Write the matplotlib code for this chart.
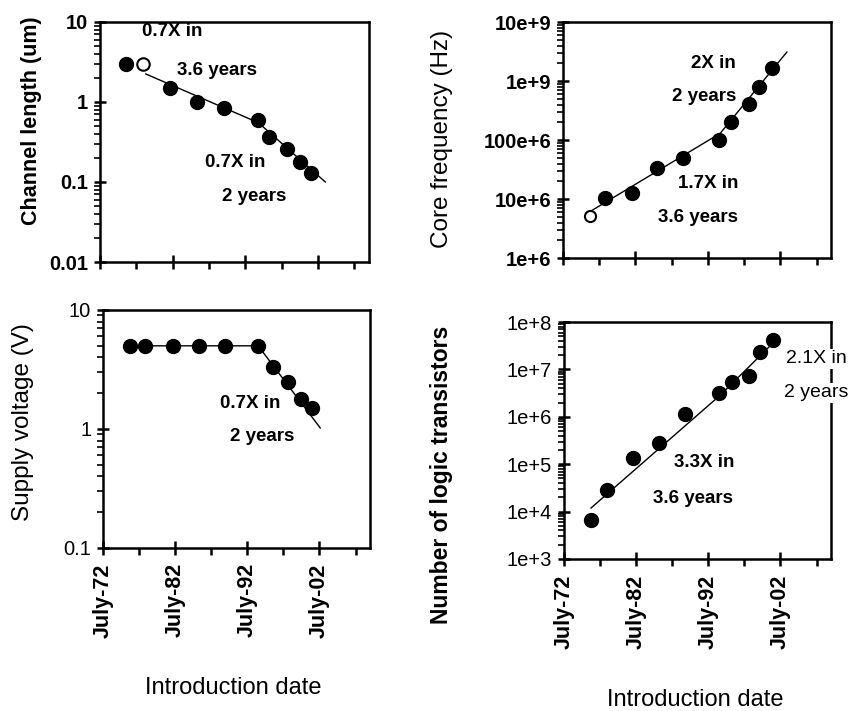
import matplotlib
matplotlib.use("Agg")
from matplotlib import pyplot as plt
from matplotlib.ticker import FixedLocator, FixedFormatter, LogLocator, NullFormatter

plt.rcParams['font.family'] = ['Liberation Sans', 'DejaVu Sans']

# x positions are fractional years (July = .5)
xticks_major = [1972.5, 1982.5, 1992.5, 2002.5]
xticks_minor = [1977.5, 1987.5, 1997.5, 2007.5]
xtick_labels = ["July-72", "July-82", "July-92", "July-02"]

# channel length (um)
cl_year = [1976.1, 1982.2, 1985.9, 1989.5, 1994.3, 1995.8, 1998.2, 2000.0, 2001.5]
cl_val = [3.0, 1.5, 1.0, 0.85, 0.6, 0.36, 0.26, 0.18, 0.13]
cl_open_year = [1978.4]
cl_open_val = [3.0]
cl_fit_year = [1978.8, 1994.3, 2003.5]
cl_fit_val = [2.24, 0.55, 0.10]

# core frequency (Hz)
cf_year = [1978.3, 1982.0, 1985.5, 1989.1, 1994.0, 1995.7, 1998.2, 1999.5, 2001.3]
cf_val = [1.05e7, 1.25e7, 3.3e7, 5.0e7, 1.0e8, 2.0e8, 4.1e8, 7.8e8, 1.65e9]
cf_open_year = [1976.2]
cf_open_val = [5.2e6]
cf_fit_year = [1976.1, 1994.2, 2003.4]
cf_fit_val = [6.0e6, 1.3e8, 3.1e9]

# supply voltage (V)
sv_year = [1976.25, 1978.3, 1982.2, 1985.8, 1989.4, 1994.0, 1996.0, 1998.2, 1999.9, 2001.5]
sv_val = [5, 5, 5, 5, 5, 5, 3.3, 2.5, 1.8, 1.5]
sv_fit_year = [1976.25, 1994.0, 2002.6]
sv_fit_val = [5, 5, 1.02]

# logic transistors
lt_year = [1976.25, 1978.5, 1982.1, 1985.7, 1989.3, 1994.0, 1995.8, 1998.2, 1999.6, 2001.5]
lt_val = [6.6e3, 2.9e4, 1.35e5, 2.8e5, 1.15e6, 3.2e6, 5.4e6, 7.2e6, 2.3e7, 4.2e7]
lt_fit_year = [1976.25, 1994.2, 2001.3]
lt_fit_val = [1.19e4, 2.9e6, 3.4e7]

cl_ticks = [0.01, 0.1, 1, 10]
cl_ticklabels = ["0.01", "0.1", "1", "10"]
cf_ticks = [1e6, 1e7, 1e8, 1e9, 1e10]
cf_ticklabels = ["1e+6", "10e+6", "100e+6", "1e+9", "10e+9"]
sv_ticks = [0.1, 1, 10]
sv_ticklabels = ["0.1", "1", "10"]
lt_ticks = [1e3, 1e4, 1e5, 1e6, 1e7, 1e8]
lt_ticklabels = ["1e+3", "1e+4", "1e+5", "1e+6", "1e+7", "1e+8"]

fig = plt.figure(figsize=(8.5, 7.11), dpi=100)
ax_cl = fig.add_axes([0.1176, 0.6315, 0.3165, 0.3376])
ax_cf = fig.add_axes([0.6624, 0.6371, 0.3153, 0.3319])
ax_sv = fig.add_axes([0.1212, 0.2293, 0.3141, 0.3347])
ax_lt = fig.add_axes([0.6635, 0.2138, 0.3141, 0.3333])


def style(ax, ticks, ticklabels, ylim, tick_bold, show_x):
    ax.set_yscale('log')
    ax.set_xlim(1972.5, 2009.5)
    ax.set_ylim(*ylim)
    for s in ax.spines.values():
        s.set_linewidth(1.8)
    ax.xaxis.set_major_locator(FixedLocator(xticks_major))
    ax.xaxis.set_minor_locator(FixedLocator(xticks_minor))
    ax.yaxis.set_major_locator(FixedLocator(ticks))
    ax.yaxis.set_major_formatter(FixedFormatter(ticklabels))
    ax.yaxis.set_minor_locator(LogLocator(base=10, subs=range(2, 10), numticks=20))
    ax.yaxis.set_minor_formatter(NullFormatter())
    ax.tick_params(axis='x', which='major', direction='inout', length=10, width=1.8, pad=6)
    ax.tick_params(axis='x', which='minor', direction='out', length=5, width=1.8)
    ax.tick_params(axis='y', which='major', direction='inout', length=9, width=1.8,
                   labelsize=14.5, pad=4)
    ax.tick_params(axis='y', which='minor', direction='out', length=4, width=1.2)
    for t in ax.get_yticklabels():
        t.set_fontweight('bold' if tick_bold else 'normal')
    if show_x:
        ax.set_xticklabels(xtick_labels, rotation=90, fontsize=15.5, fontweight='bold')
    else:
        ax.set_xticklabels([])


def mark(ax, x, y, **kw):
    ax.plot(x, y, 'o', color='black', markersize=10, zorder=4, clip_on=False, **kw)


style(ax_cl, cl_ticks, cl_ticklabels, (0.01, 10), True, False)
ax_cl.plot(cl_fit_year, cl_fit_val, color='black', lw=1.0)
mark(ax_cl, cl_year, cl_val)
ax_cl.plot(cl_open_year, cl_open_val, 'o', mfc='white', mec='black', mew=1.5, markersize=9)
ax_cl.set_ylabel("Channel length (um)", fontsize=15.5, fontweight='bold', va='center')
ax_cl.yaxis.set_label_coords(-0.253, 0.5875)
ann = dict(ha='center', va='center', fontsize=13.5, fontweight='bold')
ax_cl.text(1982.5, 7.5, "0.7X in", **ann)
ax_cl.text(1988.6, 2.5, "3.6 years", **ann)
ax_cl.text(1991.1, 0.173, "0.7X in", **ann)
ax_cl.text(1993.7, 0.065, "2 years", **ann)

style(ax_cf, cf_ticks, cf_ticklabels, (1e6, 1e10), True, False)
ax_cf.plot(cf_fit_year, cf_fit_val, color='black', lw=1.0)
mark(ax_cf, cf_year, cf_val)
ax_cf.plot(cf_open_year, cf_open_val, 'o', mfc='white', mec='black', mew=1.5, markersize=8)
ax_cf.set_ylabel("Core frequency (Hz)", fontsize=17.5, va='center')
ax_cf.yaxis.set_label_coords(-0.451, 0.506)
ax_cf.text(1993.3, 2.0e9, "2X in", **ann)
ax_cf.text(1992.0, 5.4e8, "2 years", **ann)
ax_cf.text(1992.5, 1.86e7, "1.7X in", **ann)
ax_cf.text(1991.1, 4.8e6, "3.6 years", **ann)

style(ax_sv, sv_ticks, sv_ticklabels, (0.1, 10), False, True)
ax_sv.plot(sv_fit_year, sv_fit_val, color='black', lw=1.0)
mark(ax_sv, sv_year, sv_val)
ax_sv.set_ylabel("Supply voltage (V)", fontsize=17.5, va='center')
ax_sv.yaxis.set_label_coords(-0.30, 0.529)
ax_sv.set_xlabel("Introduction date", fontsize=17, va='center')
ax_sv.xaxis.set_label_coords(0.489, -0.588)
ax_sv.text(1992.9, 1.65, "0.7X in", **ann)
ax_sv.text(1994.6, 0.857, "2 years", **ann)

style(ax_lt, lt_ticks, lt_ticklabels, (1e3, 1e8), False, True)
ax_lt.plot(lt_fit_year, lt_fit_val, color='black', lw=1.0)
mark(ax_lt, lt_year, lt_val)
ax_lt.set_ylabel("Number of logic transistors", fontsize=16.5, fontweight='bold', va='center')
ax_lt.yaxis.set_label_coords(-0.457, 0.354)
ax_lt.set_xlabel("Introduction date", fontsize=17, va='center')
ax_lt.xaxis.set_label_coords(0.49, -0.595)
side = dict(ha='center', va='center', fontsize=14, clip_on=False, zorder=5,
            bbox=dict(facecolor='white', edgecolor='none', pad=1))
ax_lt.text(2007.5, 1.66e7, "2.1X in", **side)
ax_lt.text(2007.4, 3.2e6, "2 years", **side)
ax_lt.text(1991.9, 1.06e5, "3.3X in", **ann)
ax_lt.text(1990.4, 1.86e4, "3.6 years", **ann)

fig.savefig("out.png", dpi=100)
